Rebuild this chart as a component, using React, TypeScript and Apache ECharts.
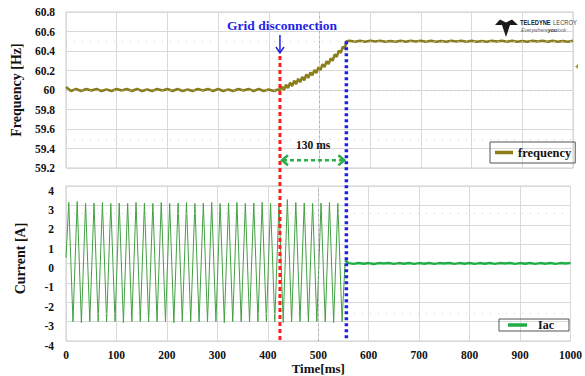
import React, { useEffect, useRef } from "react";
import * as echarts from "echarts";

// ---------- data ----------
const FONT = '"Liberation Serif", "Times New Roman", serif';

// Frequency trace [ms] / [Hz]
const freqT = [
  0, 10, 20, 30, 40, 50, 60, 70, 80, 90, 100, 110, 120, 130, 140, 150, 160, 170, 180, 190, 200,
  210, 220, 230, 240, 250, 260, 270, 280, 290, 300, 310, 320, 330, 340, 350, 360, 370, 380, 390,
  400, 410, 418,
  422, 426, 430, 434, 438, 442, 446, 450, 454, 458, 462, 466, 470, 474, 478, 482, 486, 490, 494,
  498, 502, 506, 510, 514, 518, 522, 526, 530, 534, 538, 542, 546, 550, 553,
  560, 570, 580, 590, 600, 610, 620, 630, 640, 650, 660, 670, 680, 690, 700, 710, 720, 730, 740,
  750, 760, 770, 780, 790, 800, 810, 820, 830, 840, 850, 860, 870, 880, 890, 900, 910, 920, 930,
  940, 950, 960, 970, 980, 990, 1000,
];
const freqV = [
  60.03, 59.99, 60.01, 59.99, 60.01, 59.995, 60.01, 59.99, 60.005, 59.99, 60.01, 59.995, 60.01,
  59.99, 60.01, 59.99, 60.005, 59.99, 60.01, 59.995, 60.01, 59.99, 60.01, 59.99, 60.005, 59.99,
  60.01, 59.995, 60.01, 59.99, 60.01, 59.99, 60.005, 59.99, 60.01, 59.995, 60.01, 59.99, 60.01,
  59.99, 60.005, 59.99, 60.005,
  60.0, 60.035, 60.0, 60.055, 60.02, 60.075, 60.04, 60.095, 60.06, 60.115, 60.08, 60.135, 60.1,
  60.16, 60.125, 60.18, 60.15, 60.205, 60.175, 60.235, 60.205, 60.265, 60.235, 60.295, 60.265,
  60.325, 60.3, 60.365, 60.34, 60.405, 60.38, 60.445, 60.425, 60.5,
  60.505, 60.495, 60.505, 60.495, 60.505, 60.497, 60.505, 60.495, 60.503, 60.495, 60.505, 60.495,
  60.505, 60.497, 60.505, 60.495, 60.505, 60.495, 60.503, 60.495, 60.505, 60.497, 60.505, 60.495,
  60.505, 60.495, 60.503, 60.495, 60.505, 60.497, 60.505, 60.495, 60.505, 60.495, 60.503, 60.495,
  60.505, 60.497, 60.505, 60.495, 60.505, 60.495, 60.503, 60.495, 60.505,
];

// Current trace before the inverter stops: peaks / troughs [ms] / [A]
const currT = [
  0, 5.5, 13.8, 22.2, 30.5, 38.8, 47.2, 55.5, 63.8, 72.2, 80.5, 88.8, 97.2, 105.5, 113.8, 122.2,
  130.5, 138.8, 147.2, 155.5, 163.8, 172.2, 180.5, 188.8, 197.2, 205.5, 213.8, 222.2, 230.5, 238.8,
  247.2, 255.5, 263.8, 272.2, 280.5, 288.8, 297.2, 305.5, 313.8, 322.2, 330.5, 338.8, 347.2, 355.5,
  363.8, 372.2, 380.5, 388.8, 397.2, 405.5, 413.8, 422.2, 430.5, 438.8, 447.2, 455.5, 463.8, 472.2,
  480.5, 488.8, 497.2, 505.5, 513.8, 522.2, 530.5, 538.8, 547.2, 553,
];
const currV = [
  0.3,
  3.15, -3.0, 3.2, -3.05, 3.1, -3.0, 3.12, -3.0, 3.15, -3.02, 3.1, -3.0, 3.12, -3.05, 3.1, -3.0,
  3.15, -3.0, 3.12, -3.02, 3.1, -3.0, 3.15, -3.0, 3.1, -3.05, 3.12, -3.0, 3.15, -3.0, 3.1, -3.02,
  3.12, -3.0, 3.15, -3.0, 3.1, -3.05, 3.12, -3.0, 3.15, -3.0, 3.1, -3.02, 3.12, -3.0, 3.15, -3.0,
  3.1, -3.0, 3.1, -3.05, 3.3, -3.0, 3.15, -3.0, 3.12, -3.02, 3.1, -3.0, 3.12, -3.0, 3.15, -3.05,
  3.1, -3.0,
  0.0,
];
// Current after the inverter stops
const currFlatT = [
  553, 560, 570, 580, 590, 600, 610, 620, 630, 640, 650, 660, 670, 680, 690, 700, 710, 720, 730,
  740, 750, 760, 770, 780, 790, 800, 810, 820, 830, 840, 850, 860, 870, 880, 890, 900, 910, 920,
  930, 940, 950, 960, 970, 980, 990, 1000,
];
const currFlatV = [
  0.15, 0.02, -0.02, 0.03, -0.01, 0.02, -0.03, 0.02, 0.0, 0.03, -0.02, 0.02, -0.01, 0.03, -0.02,
  0.02, -0.01, 0.03, -0.02, 0.02, 0.0, 0.03, -0.02, 0.02, -0.01, 0.03, -0.02, 0.02, -0.01, 0.03,
  -0.02, 0.02, 0.0, 0.03, -0.02, 0.02, -0.01, 0.03, -0.02, 0.02, -0.01, 0.03, -0.02, 0.02, 0.0,
  0.02,
];

const eventTimes = [422, 553]; // grid disconnection, inverter stop
const eventLabels = ["Grid disconnection", "130 ms"];

const FREQ_COLOR = "#8a7d1a";
const CURR_COLOR = "#43a043";
const CURR_FLAT_COLOR = "#1fae45";

export default function App() {
  const ref = useRef<HTMLDivElement>(null);

  useEffect(() => {
    document.body.style.margin = "0";
    if (!ref.current) return;
    const chart = echarts.init(ref.current, null, { renderer: "svg" });

    const axisLabelStyle = {
      fontFamily: FONT,
      fontWeight: "bold" as const,
      fontSize: 11.5,
      color: "#111",
      showMinLabel: true,
      showMaxLabel: true,
      hideOverlap: false,
    };
    const splitLine = { show: true, lineStyle: { color: "#d9d9d9", width: 1 } };

    const option: any = {
      animation: false,
      backgroundColor: "#ffffff",
      grid: [
        { left: 66, top: 12, width: 507, height: 156, show: true, borderColor: "#cccccc", borderWidth: 1, backgroundColor: "transparent" },
        { left: 66, top: 186, width: 507, height: 157, show: true, borderColor: "#cccccc", borderWidth: 1, backgroundColor: "transparent" },
      ],
      xAxis: [
        {
          gridIndex: 0, type: "value", min: 0, max: 1000, interval: 100,
          axisLabel: { show: false }, axisLine: { show: false }, axisTick: { show: false }, splitLine,
        },
        {
          gridIndex: 1, type: "value", min: 0, max: 1000, interval: 100,
          axisLabel: { ...axisLabelStyle, margin: 8, formatter: (v: number) => String(v) },
          axisLine: { show: false }, axisTick: { show: false }, splitLine,
          name: "Time[ms]", nameLocation: "middle", nameGap: 21,
          nameTextStyle: { fontFamily: FONT, fontWeight: "bold", fontSize: 13, color: "#111" },
        },
      ],
      yAxis: [
        {
          gridIndex: 0, type: "value", min: 59.2, max: 60.8, interval: 0.2,
          axisLabel: { ...axisLabelStyle, margin: 11, formatter: (v: number) => String(Number(v.toFixed(1))) },
          axisLine: { show: false }, axisTick: { show: false }, splitLine,
          name: "Frequency [Hz]", nameLocation: "middle", nameGap: 41,
          nameTextStyle: { fontFamily: FONT, fontWeight: "bold", fontSize: 14, color: "#111" },
        },
        {
          gridIndex: 1, type: "value", min: -4, max: 4, interval: 1,
          axisLabel: { ...axisLabelStyle, margin: 12, verticalAlign: "top", lineHeight: 9, formatter: (v: number) => String(v) },
          axisLine: { show: false }, axisTick: { show: false }, splitLine,
          name: "Current [A]", nameLocation: "middle", nameGap: 39,
          nameTextStyle: { fontFamily: FONT, fontWeight: "bold", fontSize: 14, color: "#111", padding: [0, 0, 0, 10] },
        },
      ],
      legend: [
        {
          data: [{ name: "frequency", icon: "rect", itemStyle: { color: FREQ_COLOR } }],
          left: 490, top: 142, orient: "horizontal",
          borderColor: "#555", borderWidth: 1, padding: [4, 4, 4, 5],
          itemWidth: 18, itemHeight: 3.5, selectedMode: false,
          textStyle: { fontFamily: FONT, fontWeight: "bold", fontSize: 12.5, color: "#111" },
        },
        {
          data: [{ name: "Iac", icon: "rect", itemStyle: { color: CURR_FLAT_COLOR } }],
          left: 499, top: 319, orient: "horizontal",
          borderColor: "#555", borderWidth: 1, padding: [0, 15, 0, 9],
          itemWidth: 19, itemHeight: 3.5, selectedMode: false,
          textStyle: { fontFamily: FONT, fontWeight: "bold", fontSize: 12, color: "#111", padding: [0, 0, 0, 6] },
        },
      ],
      series: [
        {
          name: "frequency", type: "line", xAxisIndex: 0, yAxisIndex: 0,
          showSymbol: false, symbol: "none",
          data: freqT.map((t, i) => [t, freqV[i]]),
          lineStyle: { color: FREQ_COLOR, width: 2.5 },
          itemStyle: { color: FREQ_COLOR },
          z: 3,
          markLine: {
            silent: true, symbol: "none", label: { show: false },
            data: [
              { xAxis: 500, lineStyle: { type: [2, 3], color: "#b0b0b0", width: 1 } },
              { yAxis: 60.5, lineStyle: { type: [1, 7], color: "#d0d0d0", width: 1 } },
              { yAxis: 59.5, lineStyle: { type: [1, 7], color: "#d0d0d0", width: 1 } },
              { yAxis: 60, lineStyle: { type: [1, 7], color: "#b8b8b8", width: 1 } },
            ],
          },
        },
        {
          name: "Iac", type: "line", xAxisIndex: 1, yAxisIndex: 1,
          showSymbol: false, symbol: "none",
          data: currT.map((t, i) => [t, currV[i]]),
          lineStyle: { color: CURR_COLOR, width: 1 },
          itemStyle: { color: CURR_FLAT_COLOR },
          z: 3,
          markLine: {
            silent: true, symbol: "none", label: { show: false },
            data: [
              { xAxis: 500, lineStyle: { type: [2, 3], color: "#b0b0b0", width: 1 } },
              { yAxis: 2.6, lineStyle: { type: [1, 7], color: "#d0d0d0", width: 1 } },
              { yAxis: -2.55, lineStyle: { type: [1, 7], color: "#d0d0d0", width: 1 } },
            ],
          },
        },
        {
          name: "Iac", type: "line", xAxisIndex: 1, yAxisIndex: 1,
          showSymbol: false, symbol: "none",
          data: currFlatT.map((t, i) => [t, currFlatV[i]]),
          lineStyle: { color: CURR_FLAT_COLOR, width: 2.5 },
          itemStyle: { color: CURR_FLAT_COLOR },
          z: 4,
        },
      ],
    };
    chart.setOption(option);

    // annotations placed through the axes' own scales
    const px = (t: number) => chart.convertToPixel({ xAxisIndex: 0 }, t) as number;
    const pyT = (v: number) => chart.convertToPixel({ yAxisIndex: 0 }, v) as number;
    const pyB = (v: number) => chart.convertToPixel({ yAxisIndex: 1 }, v) as number;
    const x1 = px(eventTimes[0]);
    const x2 = px(eventTimes[1]);
    const yBottom = pyB(-4);
    const arrowY = pyT(59.28);
    const BLUE = "#1f1fe6";
    const GREEN = "#2aae4a";
    const rightEdge = px(1000);

    chart.setOption({
      graphic: [
        // red dashed disconnection line
        { type: "line", z: 50, shape: { x1, y1: pyT(60.35), x2: x1, y2: yBottom }, style: { stroke: "#ff1e1e", lineWidth: 3, lineDash: [4, 3] } },
        // blue dotted stop line
        { type: "line", z: 50, shape: { x1: x2, y1: pyT(60.5), x2, y2: yBottom }, style: { stroke: BLUE, lineWidth: 3.5, lineDash: [3, 3] } },
        // blue arrow
        { type: "line", z: 50, shape: { x1: x1, y1: 35, x2: x1, y2: 53 }, style: { stroke: BLUE, lineWidth: 1.5 } },
        { type: "polyline", z: 50, shape: { points: [[x1 - 4, 47], [x1, 53], [x1 + 4, 47]] }, style: { stroke: BLUE, lineWidth: 1.5, fill: "none" } },
        {
          type: "text", z: 50, x: x1 + 2, y: 25,
          style: { text: eventLabels[0], fill: BLUE, font: `bold 13.5px ${FONT}`, textAlign: "center", textVerticalAlign: "middle" },
        },
        {
          type: "text", z: 50, x: (x1 + x2) / 2, y: 145,
          style: { text: eventLabels[1], fill: "#111", font: `bold 11.5px ${FONT}`, textAlign: "center", textVerticalAlign: "middle" },
        },
        // green double arrow
        { type: "line", z: 50, shape: { x1: x1 + 3, y1: arrowY, x2: x2 - 3, y2: arrowY }, style: { stroke: GREEN, lineWidth: 2.5, lineDash: [4, 3] } },
        { type: "polyline", z: 50, shape: { points: [[x1 + 8, arrowY - 5], [x1 + 2, arrowY], [x1 + 8, arrowY + 5]] }, style: { stroke: GREEN, lineWidth: 2.5, fill: "none" } },
        { type: "polyline", z: 50, shape: { points: [[x2 - 8, arrowY - 5], [x2 - 2, arrowY], [x2 - 8, arrowY + 5]] }, style: { stroke: GREEN, lineWidth: 2.5, fill: "none" } },
        // Teledyne LeCroy logo
        {
          type: "polygon", z: 50,
          shape: { points: [[495, 25], [500, 19.5], [506, 22.5], [512, 19.5], [518, 25], [510, 25], [506, 37], [502, 25]] },
          style: { fill: "#1a1a1a" },
        },
        {
          type: "text", z: 50, x: 520, y: 22, scaleX: 0.72,
          style: {
            text: "{a|TELEDYNE} {b|LECROY}", textVerticalAlign: "middle",
            rich: {
              a: { font: `bold 8px "Liberation Sans", sans-serif`, fill: "#222" },
              b: { font: `8px "Liberation Sans", sans-serif`, fill: "#444" },
            },
          },
        },
        {
          type: "text", z: 50, x: 521, y: 30, scaleX: 0.85,
          style: {
            text: "{a|Everywhere}{b|you}{a|look}", textVerticalAlign: "middle",
            rich: {
              a: { font: `italic 6px "Liberation Sans", sans-serif`, fill: "#666" },
              b: { font: `italic bold 6px "Liberation Sans", sans-serif`, fill: "#333" },
            },
          },
        },
        // trigger marker at the right edge
        {
          type: "polygon", z: 50,
          shape: { points: [[rightEdge + 2, pyT(60.24)], [rightEdge + 5, pyT(60.24) - 2.5], [rightEdge + 5, pyT(60.24) + 2.5]] },
          style: { fill: "#a8a030" },
        },
      ],
    });

    return () => chart.dispose();
  }, []);

  return <div ref={ref} style={{ width: 585, height: 376 }} />;
}
